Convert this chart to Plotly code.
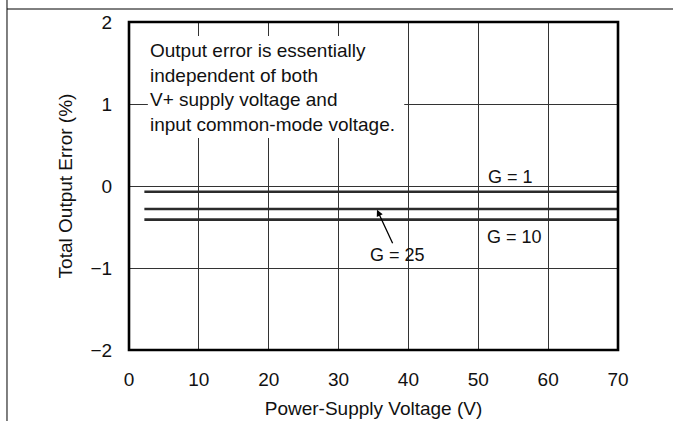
import plotly.graph_objects as go

# Data
supply_v = [2.2, 70]
series_names = ["G = 1", "G = 25", "G = 10"]
series_vals = [[-0.07, -0.07], [-0.28, -0.28], [-0.41, -0.41]]
x_ticks = [0, 10, 20, 30, 40, 50, 60, 70]
y_ticks = [-2, -1, 0, 1, 2]
note_lines = ["Output error is essentially", "independent of both",
              "V+ supply voltage and", "input common-mode voltage."]

FONT = "Liberation Sans, Arial, sans-serif"
FS = 19
FL = 18
fig = go.Figure()
for name, vals in zip(series_names, series_vals):
    fig.add_trace(go.Scatter(x=supply_v, y=vals, mode="lines", name=name,
                             line=dict(color="#2b2b2b", width=2.6),
                             showlegend=False, hoverinfo="skip"))

fig.update_layout(
    width=673, height=421,
    margin=dict(l=129, r=55, t=22, b=71, autoexpand=False),
    paper_bgcolor="white", plot_bgcolor="white",
    font=dict(family=FONT, size=FS, color="#111"),
)
fig.update_xaxes(range=[0, 70], tickvals=x_ticks, showgrid=True,
                 gridcolor="#333", gridwidth=1, zeroline=False, automargin=False,
                 ticks="outside", ticklen=12, tickcolor="rgba(0,0,0,0)",
                 title=dict(text="Power-Supply Voltage (V)", standoff=12,
                            font=dict(size=FS)),
                 tickfont=dict(size=FS), showline=False)
fig.update_yaxes(range=[-2, 2], tickvals=y_ticks, showgrid=True,
                 gridcolor="#333", gridwidth=1, zeroline=False, automargin=False,
                 ticks="outside", ticklen=12, tickcolor="rgba(0,0,0,0)",
                 title=dict(text="Total Output Error (%)", standoff=12,
                            font=dict(size=FS)),
                 tickfont=dict(size=FS), showline=False)

# white box behind note text
fig.add_shape(type="rect", xref="x", yref="y", x0=2.7, x1=39.4, y0=0.585, y1=1.83,
              fillcolor="white", line=dict(width=0), layer="above")
# plot frame
fig.add_shape(type="rect", xref="paper", yref="paper", x0=0, x1=1, y0=0, y1=1,
              line=dict(color="black", width=2.6), layer="above")
# page decoration lines
fig.add_shape(type="line", xref="paper", yref="paper", x0=-0.2495, x1=1.12,
              y0=1.0396, y1=1.0396, line=dict(color="black", width=1))
fig.add_shape(type="line", xref="paper", yref="paper", x0=-0.2495, x1=-0.2495,
              y0=-0.25, y1=1.1, line=dict(color="black", width=1))

fig.add_annotation(x=2.75, y=1.80, xref="x", yref="y", xanchor="left", yanchor="top",
                   text="<br>".join(note_lines), align="left", showarrow=False,
                   font=dict(size=FS, family=FONT, color="#111"))
fig.add_annotation(x=54.6, y=0.11, text=series_names[0], showarrow=False,
                   font=dict(size=FL))
fig.add_annotation(x=55.2, y=-0.62, text=series_names[2], showarrow=False,
                   font=dict(size=FL))
fig.add_annotation(x=35.5, y=-0.29, text=series_names[1], showarrow=True,
                   ax=21, ay=45, arrowhead=2, arrowsize=1, arrowwidth=1.3,
                   arrowcolor="black", standoff=0, font=dict(size=FL))

fig.write_html("out.html", config={"displayModeBar": False},
               post_script="document.body.style.margin='0';")
